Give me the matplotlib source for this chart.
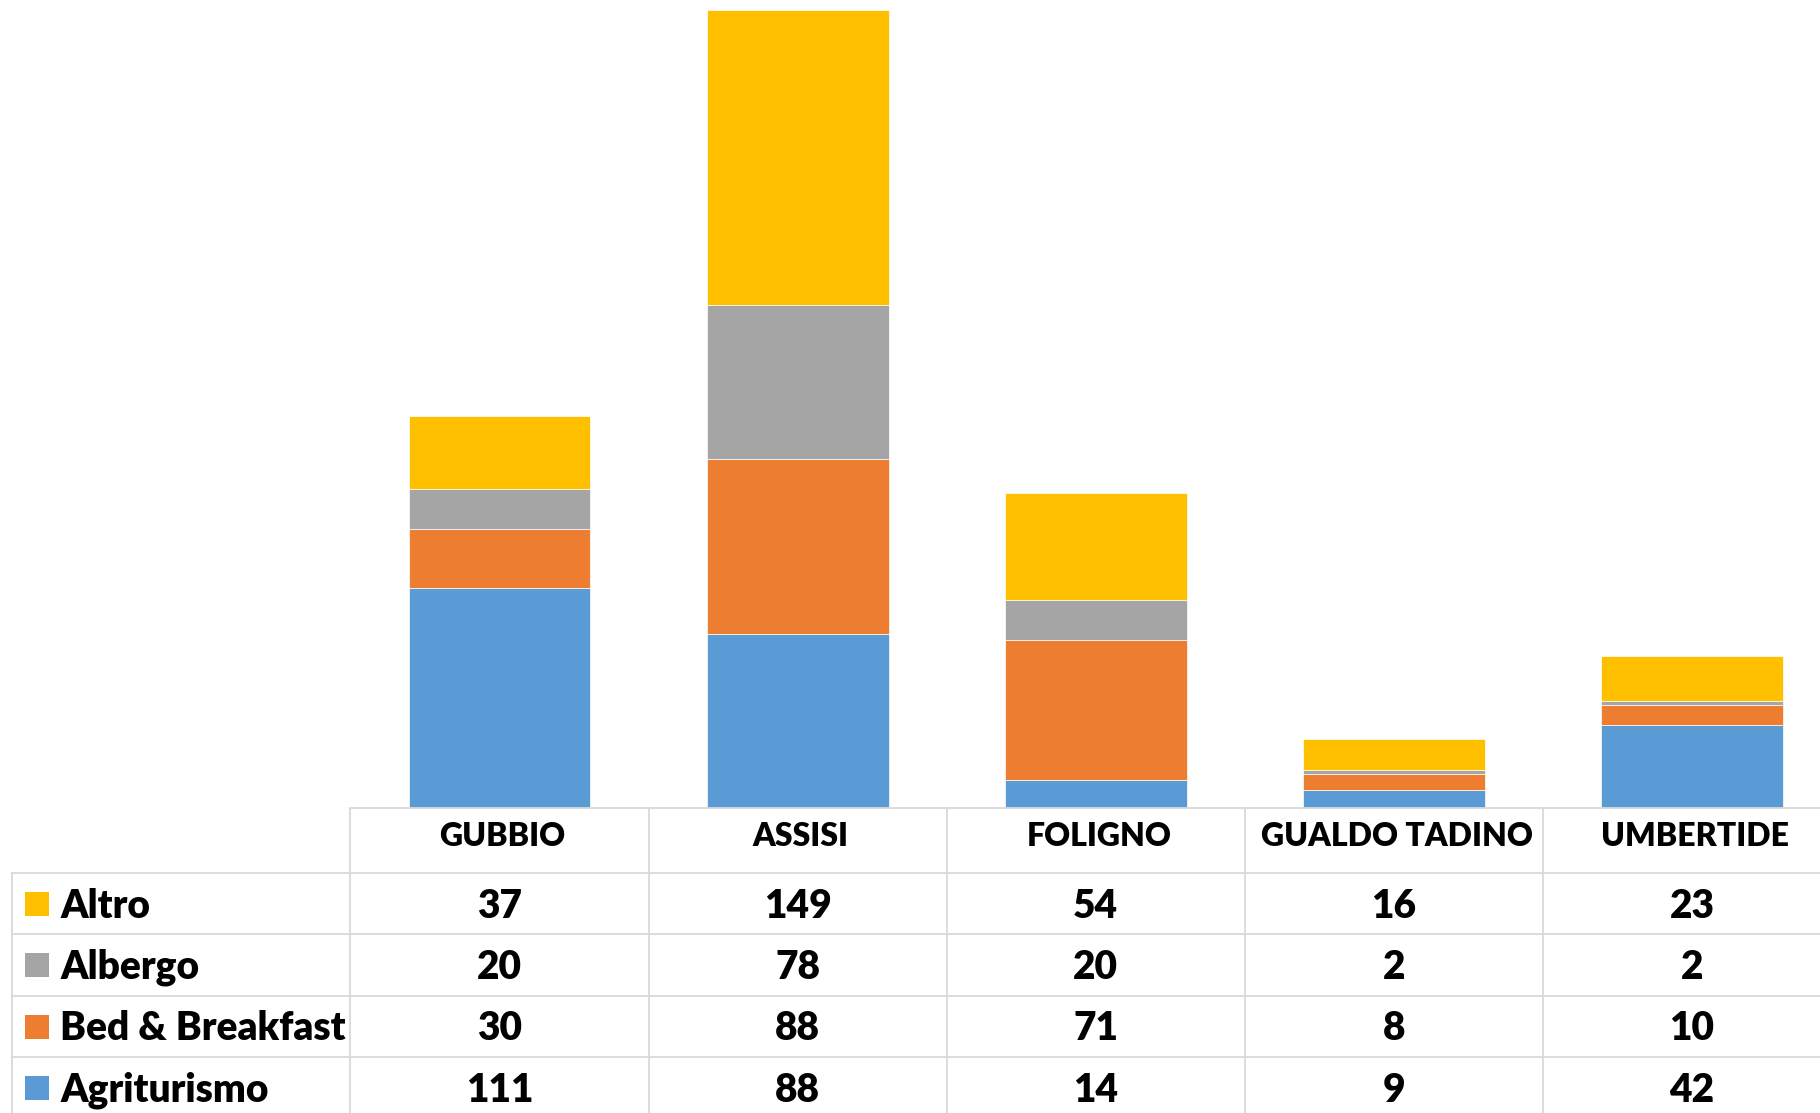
import matplotlib
matplotlib.use('Agg')
import matplotlib.pyplot as plt
import numpy as np

plt.rcParams['font.family'] = ['Lato', 'DejaVu Sans']

# dati
comuni = ['GUBBIO', 'ASSISI', 'FOLIGNO', 'GUALDO TADINO', 'UMBERTIDE']
serie = ['Agriturismo', 'Bed & Breakfast', 'Albergo', 'Altro']
agriturismo = [111, 88, 14, 9, 42]
bed_breakfast = [30, 88, 71, 8, 10]
albergo = [20, 78, 20, 2, 2]
altro = [37, 149, 54, 16, 23]
colori = ['#5B9BD5', '#ED7D31', '#A5A5A5', '#FFC000']

valori = [agriturismo, bed_breakfast, albergo, altro]

W, H = 1820, 1113
fig = plt.figure(figsize=(W / 100, H / 100), dpi=100)

col_w = 298.1      # larghezza colonna in pixel
x0 = 350.5         # bordo sinistro prima colonna
base = 808         # linea base barre (pixel dall'alto)
right = x0 + col_w * len(comuni)

# grafico a barre
ax = fig.add_axes([x0 / W, (H - base) / H, (right - x0) / W, base / H])
x = np.arange(len(comuni))
bottom = np.zeros(len(comuni))
for vals, col in zip(valori, colori):
    ax.bar(x, vals, width=0.61, bottom=bottom, color=col,
           edgecolor='white', linewidth=0.5)
    bottom += np.array(vals)
ax.set_xlim(-0.5, len(comuni) - 0.5)
ax.set_ylim(0, 408)
ax.axis('off')

# tabella dati
def xu(p):
    return -0.5 + (p - x0) / col_w

tb_bottom = 1118
ta = fig.add_axes([0, (H - tb_bottom) / H, right / W, (tb_bottom - base) / H])
ta.set_xlim(xu(0), len(comuni) - 0.5)
ta.set_ylim(tb_bottom - base, 0)
ta.axis('off')

grid = '#D9D9D9'
lw = 1.3
head_h = 65
row_h = 61.3
n_rows = len(serie)
left_edge = xu(12)
peso = 'heavy'

# linee orizzontali
ta.plot([-0.5, len(comuni) - 0.5], [0, 0], color=grid, lw=lw, clip_on=False)
for k in range(n_rows + 1):
    y = head_h + k * row_h
    ta.plot([left_edge, len(comuni) - 0.5], [y, y], color=grid, lw=lw, clip_on=False)
# linee verticali
ta.plot([left_edge, left_edge], [head_h, head_h + n_rows * row_h], color=grid, lw=lw)
for i in range(len(comuni) + 1):
    xv = i - 0.5
    ta.plot([xv, xv], [0, head_h + n_rows * row_h], color=grid, lw=lw)

# intestazioni
for i, c in enumerate(comuni):
    ta.text(i + 0.01, 29, c, ha='center', va='center', fontsize=23,
            fontweight=peso, color='black')

# righe: dall'alto Altro, Albergo, B&B, Agriturismo
for k in range(n_rows):
    s = n_rows - 1 - k
    yc = head_h + (k + 0.5) * row_h + 2.5
    ta.scatter([xu(37)], [yc - 2], marker='s', s=300, color=colori[s],
               linewidths=0, clip_on=False)
    ta.text(xu(60), yc, serie[s], ha='left', va='center', fontsize=28,
            fontweight=peso, color='black')
    for i in range(len(comuni)):
        ta.text(i, yc, str(valori[s][i]), ha='center', va='center',
                fontsize=28, fontweight=peso, color='black')

fig.savefig('out.png', dpi=100, facecolor='white')
